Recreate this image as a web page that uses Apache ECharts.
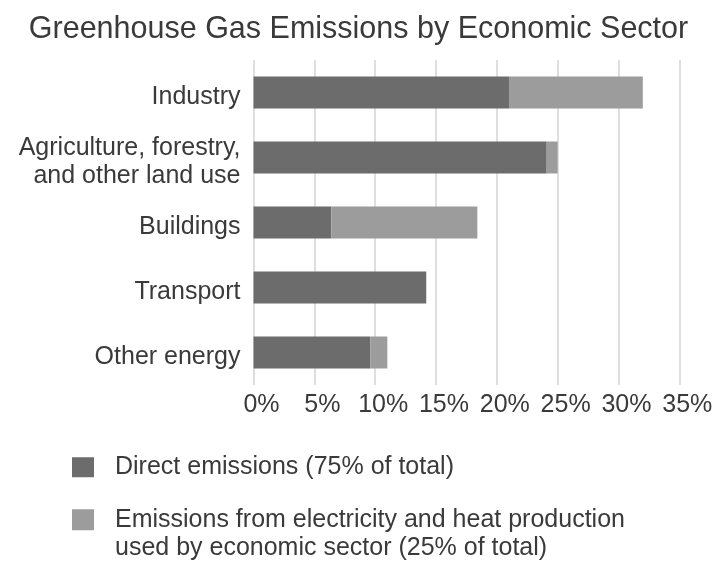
<!DOCTYPE html>
<html>
<head>
<meta charset="utf-8">
<script src="https://cdn.jsdelivr.net/npm/echarts@6/dist/echarts.min.js"></script>
<style>
  html, body { margin: 0; padding: 0; background: #ffffff; }
  #chart { width: 717px; height: 565px; }
</style>
</head>
<body>
<div id="chart"></div>
<script>
// Sectors, listed top to bottom
const sectors = [
  'Industry',
  'Agriculture, forestry,\nand other land use',
  'Buildings',
  'Transport',
  'Other energy'
];
// Share of global emissions, percent
const directEmissions = [21.0, 24.1, 6.4, 14.2, 9.6];
const electricityHeat = [11.0, 0.9, 12.0, 0.0, 1.4];
const xTickLabels = ['0%', '5%', '10%', '15%', '20%', '25%', '30%', '35%'];

const seriesNames = [
  'Direct emissions (75% of total)',
  'Emissions from electricity and heat production\nused by economic sector (25% of total)'
];

const FONT = '"Liberation Sans", Arial, Helvetica, sans-serif';
const TEXT = '#3a3a3a';

const legendText = {
  fontFamily: FONT, fontSize: 25, color: TEXT, lineHeight: 28.5,
  padding: [0, 0, 0, 16]
};

const chart = echarts.init(document.getElementById('chart'), null, { renderer: 'canvas' });

chart.setOption({
  backgroundColor: '#ffffff',
  animation: false,
  title: {
    text: 'Greenhouse Gas Emissions by Economic Sector',
    left: 'center',
    top: 14,
    padding: 0,
    textStyle: { fontFamily: FONT, fontSize: 30.5, fontWeight: 'normal', color: TEXT }
  },
  // one legend block per series, stacked under the plot
  legend: [
    {
      left: 72,
      top: 453,
      padding: 0,
      itemWidth: 22,
      itemHeight: 20,
      icon: 'rect',
      textStyle: legendText,
      data: [seriesNames[0]]
    },
    {
      left: 72,
      top: 477,
      padding: 0,
      itemWidth: 22,
      itemHeight: 21,
      icon: 'rect',
      textStyle: legendText,
      // an empty first line keeps the swatch level with the first text line
      formatter: function (name) { return '\n' + name; },
      data: [seriesNames[1]]
    }
  ],
  grid: {
    left: 253.5,
    right: 37.7,
    top: 60,
    bottom: 180,
    containLabel: false
  },
  xAxis: {
    type: 'value',
    min: 0,
    max: 35,
    interval: 5,
    axisLine: { show: false },
    axisTick: { show: false },
    splitLine: { show: true, lineStyle: { color: '#d4d4d4', width: 1.5 } },
    axisLabel: {
      fontFamily: FONT, fontSize: 25, color: TEXT, margin: 8,
      padding: [0, 0, 0, 16],
      formatter: function (v) { return xTickLabels[Math.round(v / 5)]; }
    }
  },
  yAxis: {
    type: 'category',
    data: sectors,
    inverse: true,
    axisLine: { show: false },
    axisTick: { show: false },
    axisLabel: {
      margin: 13,
      align: 'right',
      // a short spacer line nudges the sector names slightly below the bar centre
      formatter: function (v) {
        return '{s| }\n' + v.split('\n').map(function (l) { return '{a|' + l + '}'; }).join('\n');
      },
      rich: {
        s: { fontSize: 1, lineHeight: 9 },
        a: { fontFamily: FONT, fontSize: 25, color: TEXT, lineHeight: 28, align: 'right' }
      }
    }
  },
  series: [
    {
      name: seriesNames[0],
      type: 'bar',
      stack: 'total',
      barWidth: 32,
      itemStyle: { color: '#6c6c6c' },
      data: directEmissions
    },
    {
      name: seriesNames[1],
      type: 'bar',
      stack: 'total',
      barWidth: 32,
      itemStyle: { color: '#9c9c9c' },
      data: electricityHeat
    }
  ]
});
</script>
</body>
</html>
